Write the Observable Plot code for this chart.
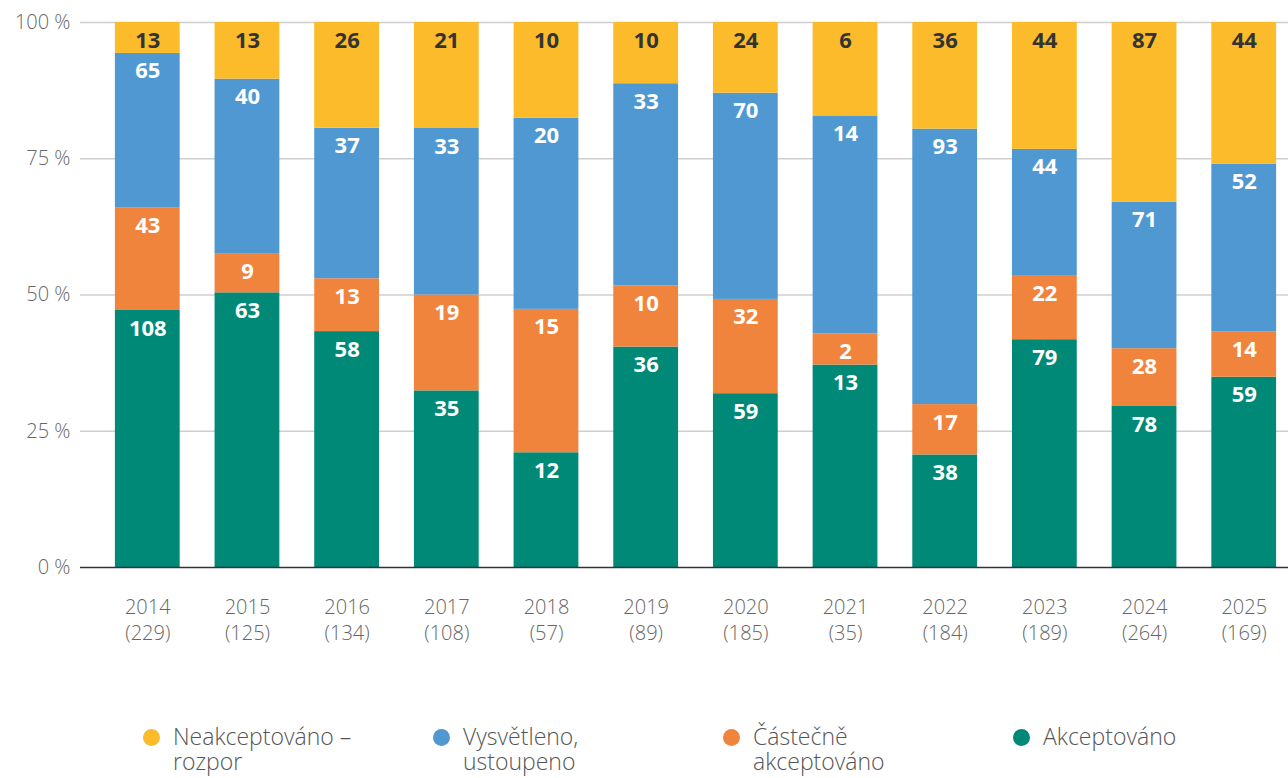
<!DOCTYPE html>
<html>
<head>
<meta charset="utf-8">
<script src="https://cdn.jsdelivr.net/npm/d3@7"></script>
<script src="https://cdn.jsdelivr.net/npm/@observablehq/plot@0.6"></script>
<style>
  body { margin: 0; background: #fff; font-family: "Open Sans", sans-serif; }
  #legend { position: relative; height: 118px; }
  .item { position: absolute; top: 64px; display: flex; align-items: flex-start; }
  .dot { width: 17px; height: 17px; border-radius: 50%; margin-top: 5px; margin-right: 13px; flex: none; }
  .lbl { font-size: 23px; line-height: 25px; color: #555; width: 205px; font-weight: 300; }
  .axis-light text { font-weight: 300; }
</style>
</head>
<body>
<div id="chart"></div>
<div id="legend"></div>
<script>
const years = ["2014","2015","2016","2017","2018","2019","2020","2021","2022","2023","2024","2025"];
const totals = [229,125,134,108,57,89,185,35,184,189,264,169];
const categories = ["Akceptováno", "Částečně akceptováno", "Vysvětleno, ustoupeno", "Neakceptováno – rozpor"];
const legendOrder = ["Neakceptováno – rozpor", "Vysvětleno, ustoupeno", "Částečně akceptováno", "Akceptováno"];
const colors = ["#008977", "#F1843D", "#4F98D2", "#FBBB2A"];
const akceptovano = [108,63,58,35,12,36,59,13,38,79,78,59];
const castecne = [43,9,13,19,15,10,32,2,17,22,28,14];
const vysvetleno = [65,40,37,33,20,33,70,14,93,44,71,52];
const neakceptovano = [13,13,26,21,10,10,24,6,36,44,87,44];
const series = [akceptovano, castecne, vysvetleno, neakceptovano];
const yTicks = [0, 0.25, 0.5, 0.75, 1];

const data = [];
categories.forEach((c, ci) => years.forEach((y, yi) => data.push({year: y, cat: c, value: series[ci][yi]})));

const stackOpts = {x: "year", y: "value", z: "cat", order: categories, offset: "normalize"};

const chart = Plot.plot({
  width: 1288,
  height: 660,
  marginLeft: 80,
  marginRight: 0,
  marginTop: 22,
  marginBottom: 93,
  style: {fontFamily: "Open Sans, sans-serif", background: "#fff"},
  x: {domain: years, range: [80, 1311], padding: 0.35, round: false, label: null},
  y: {domain: [0, 1], label: null},
  color: {domain: categories, range: colors},
  marks: [
    Plot.ruleY(yTicks.filter(d => d > 0), {stroke: "#cfcfcf", strokeWidth: 1.5}),
    Plot.barY(data, Plot.stackY({...stackOpts, fill: "cat"})),
    Plot.ruleY([0], {stroke: "#333", strokeWidth: 1.5}),
    Plot.text(data, Plot.stackY2({...stackOpts, text: "value", dy: 18,
      fill: d => d.cat === "Neakceptováno – rozpor" ? "#333" : "#fff",
      fontSize: 22, fontWeight: "bold"})),
    Plot.axisY({ticks: yTicks, tickFormat: d => `${Math.round(d*100)} %`, tickSize: 0, tickPadding: 10,
      fontSize: 20, fill: "#666", label: null, className: "axis-light"}),
    Plot.axisX({tickSize: 0, tickPadding: 28, fontSize: 20, fill: "#666", lineHeight: 1.3,
      tickFormat: (d) => `${d}\n(${totals[years.indexOf(d)]})`, label: null, className: "axis-light"})
  ]
});
document.getElementById("chart").appendChild(chart);

const legend = document.getElementById("legend");
const xs = [143, 433, 723, 1013];
legendOrder.forEach((c, i) => {
  const item = document.createElement("div");
  item.className = "item";
  item.style.left = xs[i] + "px";
  const dot = document.createElement("div");
  dot.className = "dot";
  dot.style.background = colors[categories.indexOf(c)];
  const lbl = document.createElement("div");
  lbl.className = "lbl";
  lbl.textContent = c;
  item.appendChild(dot);
  item.appendChild(lbl);
  legend.appendChild(item);
});
</script>
</body>
</html>
